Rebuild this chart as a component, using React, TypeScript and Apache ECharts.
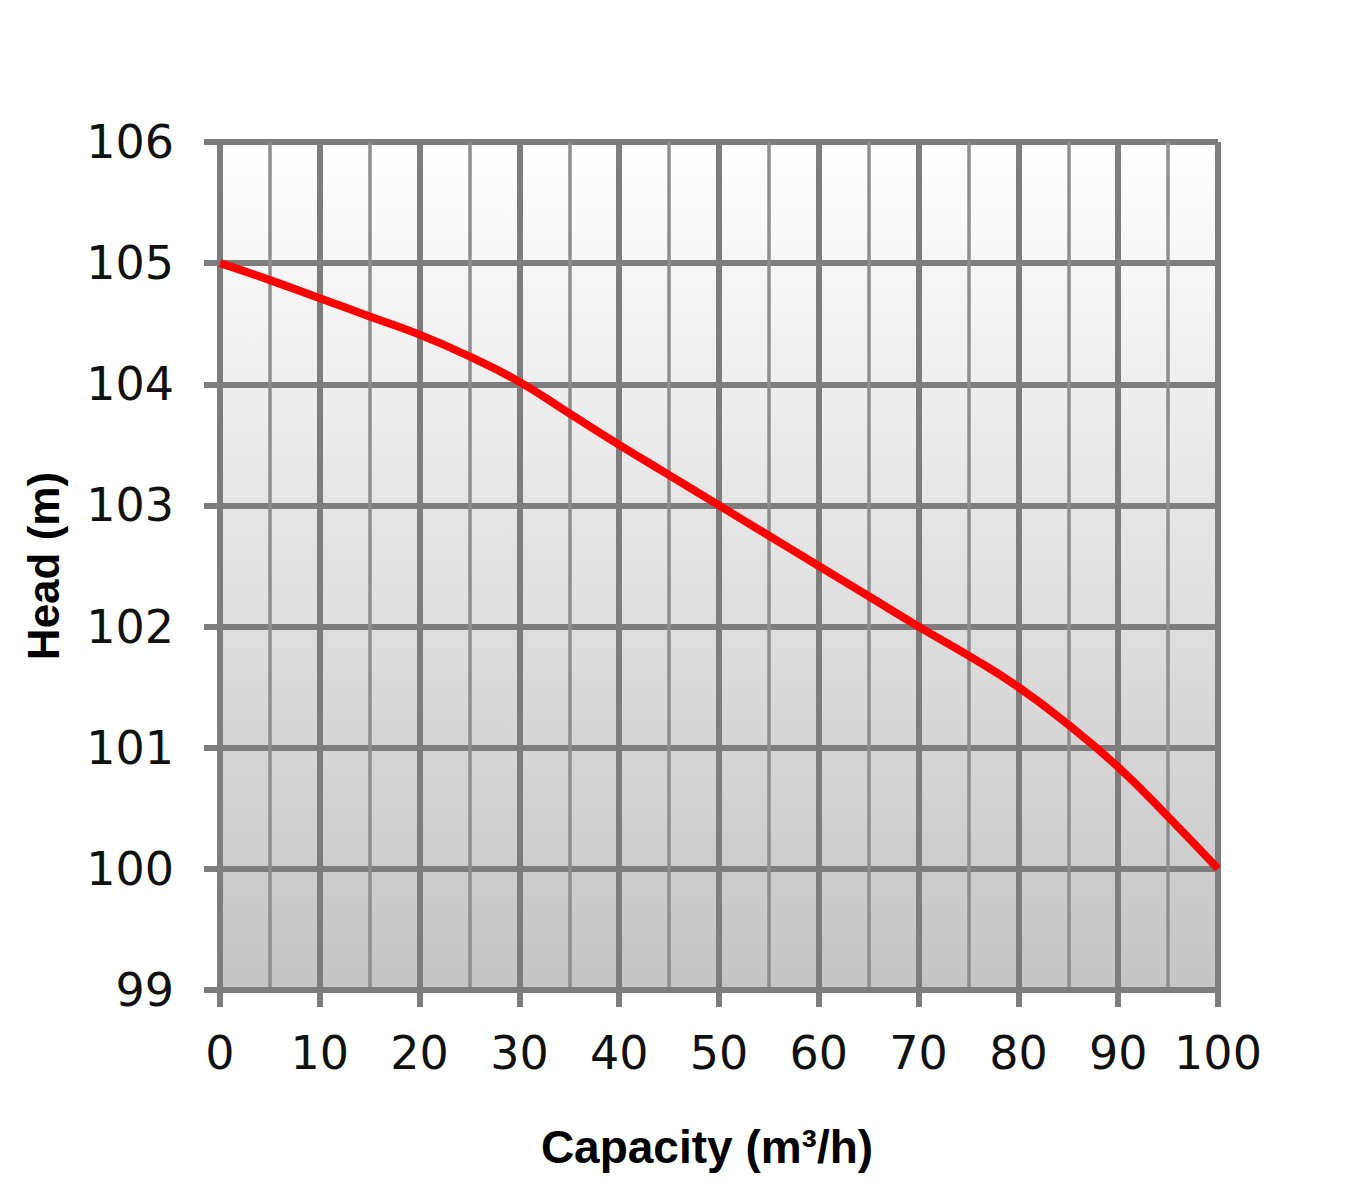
import React, { useEffect, useRef } from "react";
import * as echarts from "echarts";

const capacity = [0, 5, 10, 15, 20, 25, 30, 35, 40, 45, 50, 55, 60, 65, 70, 75, 80, 85, 90, 95, 100];
const head = [105, 104.86, 104.71, 104.56, 104.41, 104.23, 104.02, 103.76, 103.5, 103.25, 103.0, 102.75, 102.5, 102.25, 102.0, 101.76, 101.5, 101.19, 100.84, 100.43, 100];
const xTitle = "Capacity (m³/h)";
const yTitle = "Head (m)";

export default function App() {
  const ref = useRef<HTMLDivElement>(null);
  useEffect(() => {
    document.body.style.margin = "0";
    const chart = echarts.init(ref.current!, null, { renderer: "svg" });
    const gridColor = "#7d7d7d";
    chart.setOption({
      animation: false,
      backgroundColor: "#ffffff",
      grid: {
        left: 220,
        top: 142,
        right: 142,
        bottom: 210,
        show: true,
        borderWidth: 0,
        backgroundColor: new echarts.graphic.LinearGradient(0, 0, 0, 1, [
          { offset: 0, color: "#ffffff" },
          { offset: 1, color: "#c5c5c5" },
        ]),
      },
      xAxis: {
        type: "value",
        min: 0,
        max: 100,
        interval: 10,
        name: xTitle,
        nameLocation: "middle",
        nameGap: 134,
        nameTextStyle: { fontFamily: "Liberation Sans", fontWeight: "bold", fontSize: 46, color: "#000", padding: [0, 24, 0, 0] },
        axisLine: { show: true, lineStyle: { color: gridColor, width: 6 } },
        axisTick: { show: true, length: 17, lineStyle: { color: gridColor, width: 6 } },
        minorTick: { show: false, splitNumber: 2 },
        axisLabel: { fontFamily: "DejaVu Sans", fontSize: 46, color: "#111", margin: 40 },
        splitLine: { show: true, lineStyle: { color: gridColor, width: 6 } },
        minorSplitLine: { show: true, lineStyle: { color: "#8e8e8e", width: 3.5 } },
      },
      yAxis: {
        type: "value",
        min: 99,
        max: 106,
        interval: 1,
        name: yTitle,
        nameLocation: "middle",
        nameGap: 155,
        nameTextStyle: { fontFamily: "Liberation Sans", fontWeight: "bold", fontSize: 44, color: "#000" },
        axisLine: { show: true, lineStyle: { color: gridColor, width: 6 } },
        axisTick: { show: true, length: 16, lineStyle: { color: gridColor, width: 6 } },
        axisLabel: { fontFamily: "DejaVu Sans", fontSize: 46, color: "#111", margin: 46 },
        splitLine: { show: true, lineStyle: { color: gridColor, width: 6 } },
      },
      series: [
        {
          type: "line",
          data: capacity.map((c, i) => [c, head[i]]),
          smooth: 0.5,
          symbol: "none",
          clip: false,
          lineStyle: { color: "#ff0000", width: 8 },
          z: 5,
        },
      ],
    });
    return () => chart.dispose();
  }, []);
  return <div ref={ref} style={{ width: 1360, height: 1200 }} />;
}
